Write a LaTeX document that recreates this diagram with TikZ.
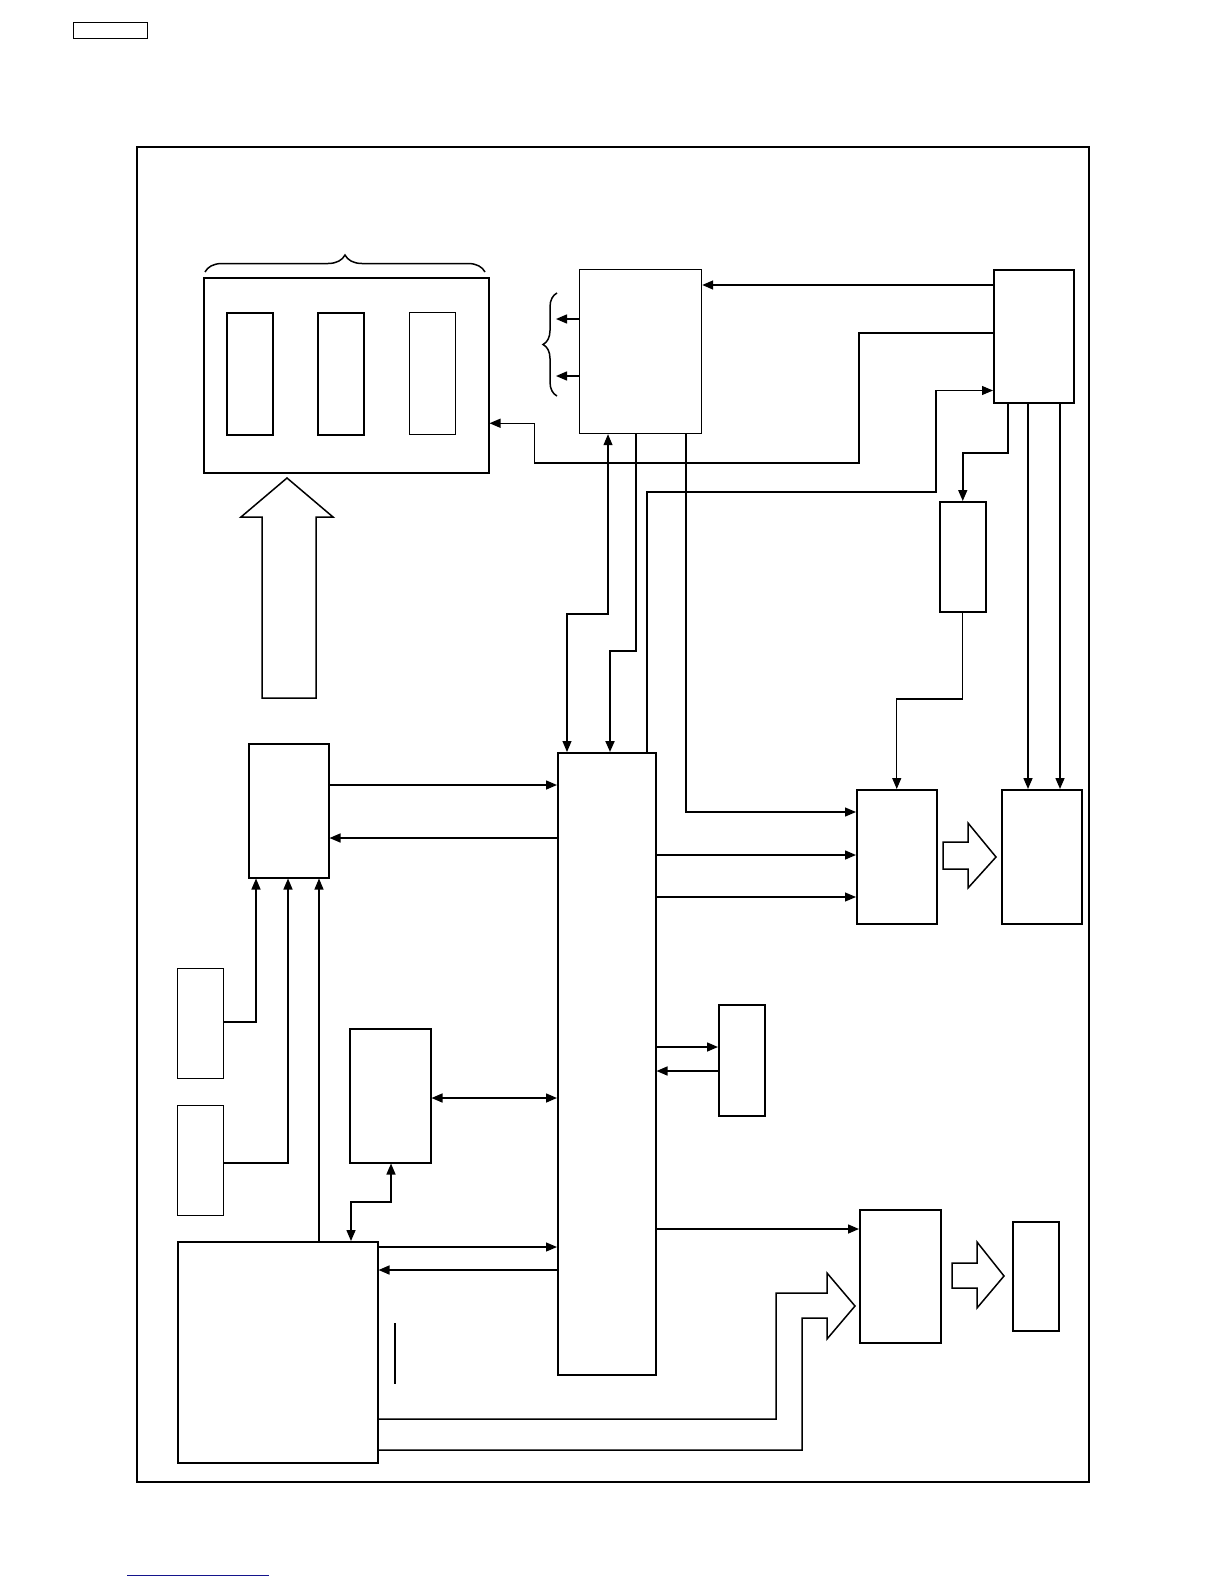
\documentclass[tikz,border=0pt]{standalone}
\usepackage{xcolor}
\usepackage{tikz}
\usetikzlibrary{arrows.meta,calc,decorations.pathreplacing}

\definecolor{linkblue}{RGB}{20,20,140}

\begin{document}
\begin{tikzpicture}[x=1pt, y=-1pt,
  blk/.style={draw, line width=1.5pt, inner sep=0pt, anchor=north west},
  thinblk/.style={blk, line width=1.2pt},
  arr/.style={-{Triangle[length=11pt,width=9pt]}, line width=1.5pt},
  tarr/.style={arr, line width=1.1pt},
  darr/.style={{Triangle[length=11pt,width=9pt]}-{Triangle[length=11pt,width=9pt]},
               line width=1.5pt},
  fat/.style={draw, line width=1.5pt, line join=miter},
  brc/.style={decorate, decoration={brace, amplitude=#1}, line width=1.5pt}
]
\useasboundingbox (0,0) rectangle (1224,1584);

% ── Page marks ───────────────────────────────────────────────────────────────
\node[thinblk, minimum width=74pt, minimum height=16pt] (tag) at (73,22) {};
\draw[linkblue, line width=1pt] (127,1575) -- (269,1575);

% ── Frame ────────────────────────────────────────────────────────────────────
\node[blk, minimum width=952pt, minimum height=1335pt] (frame) at (136,146) {};

% ── Top row ──────────────────────────────────────────────────────────────────
\node[blk, minimum width=285pt, minimum height=195pt] (mem) at (203,277) {};
\node[blk, minimum width=46pt, minimum height=122pt] (slot1) at (226,312) {};
\node[blk, minimum width=46pt, minimum height=122pt] (slot2) at (317,312) {};
\node[thinblk, minimum width=46pt, minimum height=122pt] (slot3) at (409,312) {};
\node[thinblk, minimum width=122pt, minimum height=164pt] (rom) at (579,269) {};
\node[blk, minimum width=80pt, minimum height=133pt] (ctrl) at (993,269) {};
\node[blk, minimum width=46pt, minimum height=110pt] (drv) at (939,501) {};

% ── Middle / bottom ──────────────────────────────────────────────────────────
\node[blk, minimum width=98pt, minimum height=622pt] (cpu) at (557,752) {};
\node[blk, minimum width=80pt, minimum height=134pt] (key) at (248,743) {};
\node[thinblk, minimum width=46pt, minimum height=110pt] (sw1) at (177,968) {};
\node[thinblk, minimum width=46pt, minimum height=110pt] (sw2) at (177,1105) {};
\node[blk, minimum width=81pt, minimum height=134pt] (ram) at (349,1028) {};
\node[blk, minimum width=200pt, minimum height=221pt] (pwr) at (177,1241) {};
\node[blk, minimum width=80pt, minimum height=134pt] (lcdc) at (856,789) {};
\node[blk, minimum width=80pt, minimum height=134pt] (lcd) at (1001,789) {};
\node[blk, minimum width=46pt, minimum height=111pt] (aud) at (718,1004) {};
\node[blk, minimum width=81pt, minimum height=133pt] (amp) at (859,1209) {};
\node[blk, minimum width=46pt, minimum height=109pt] (spk) at (1012,1221) {};

% ── Braces ───────────────────────────────────────────────────────────────────
\draw[brc=17pt] (205,272) -- (485,272);
\draw[brc=14pt] (557,396) -- (557,293);
\draw[arr] ($(rom.north west)+(0,50)$) -- ++(-23,0);
\draw[arr] ($(rom.north west)+(0,107)$) -- ++(-23,0);

% ── Hollow arrows ────────────────────────────────────────────────────────────
\draw[fat] (262,698) -- (262,517) -- (241,517) -- (287,478) -- (333,517)
  -- (316,517) -- (316,698) -- cycle;
\draw[fat] (943,842) -- (968,842) -- (968,823) -- (996,857) -- (968,888)
  -- (968,869) -- (943,869) -- cycle;
\draw[fat] (952,1263) -- (977,1263) -- (977,1242) -- (1004,1276) -- (977,1308)
  -- (977,1288) -- (952,1288) -- cycle;
\draw[fat] ($(pwr.north east)+(0,178)$) -| (776,1293) -- (827,1293) -- (827,1273)
  -- (855,1306) -- (827,1339) -- (827,1318) -- (802,1318)
  |- ($(pwr.north east)+(0,209)$);

% ── Arrows: controller ───────────────────────────────────────────────────────
\draw[arr] ($(ctrl.north west)+(0,16)$) coordinate (c1) -- (c1 -| rom.east);
\draw[arr] ($(ctrl.north west)+(0,64)$) -| (859,463) -| ($(mem.east)+(45,48)$)
  -- ($(mem.east)+(0,48)$);
\draw[tarr] ($(cpu.north west)+(90,0)$) |- (936,492) |- ($(ctrl.south west)+(0,-13)$);
\draw[arr] ($(ctrl.south west)+(15,0)$) |- (drv.north |- 0,453) -- (drv.north);
\draw[tarr] (drv.south) |- (lcdc.north |- 0,699) -- (lcdc.north);
\draw[arr] ($(ctrl.south west)+(35,0)$) -- ($(lcd.north west)+(27,0)$);
\draw[arr] ($(ctrl.south west)+(67,0)$) -- ($(lcd.north west)+(59,0)$);

% ── Arrows: rom / cpu ────────────────────────────────────────────────────────
\draw[darr, line width=1.1pt] ($(rom.south west)+(29,0)$) |- (567,614)
  -- ($(cpu.north west)+(10,0)$);
\draw[arr, line width=2pt] ($(rom.south west)+(57,0)$) |- (610,651)
  -- ($(cpu.north west)+(53,0)$);
\draw[arr, line width=1.2pt] ($(rom.south west)+(107,0)$) |- ($(lcdc.north west)+(0,23)$);

% ── Arrows: cpu right side ───────────────────────────────────────────────────
\path ($(lcdc.north west)+(0,66)$) coordinate (g2)
      ($(lcdc.north west)+(0,108)$) coordinate (g3)
      ($(aud.north west)+(0,43)$) coordinate (a1)
      ($(aud.north west)+(0,67)$) coordinate (a2)
      ($(amp.north west)+(0,20)$) coordinate (e1);
\draw[arr] (cpu.east |- g2) -- (g2);
\draw[tarr] (cpu.east |- g3) -- (g3);
\draw[arr] (cpu.east |- a1) -- (a1);
\draw[arr] (a2) -- (cpu.east |- a2);
\draw[arr] (cpu.east |- e1) -- (e1);

% ── Arrows: left side ────────────────────────────────────────────────────────
\path ($(key.north east)+(0,42)$) coordinate (k1)
      ($(key.north east)+(0,95)$) coordinate (k2)
      ($(ram.north east)+(0,70)$) coordinate (r1)
      ($(pwr.north east)+(0,6)$) coordinate (p1)
      ($(pwr.north east)+(0,29)$) coordinate (p2);
\draw[arr] (k1) -- (cpu.west |- k1);
\draw[arr] (cpu.west |- k2) -- (k2);
\draw[darr] (r1) -- (cpu.west |- r1);
\draw[tarr] (p1) -- (cpu.west |- p1);
\draw[arr] (cpu.west |- p2) -- (p2);

\draw[arr] ($(sw1.north east)+(0,54)$) -| ($(key.south west)+(8,0)$);
\draw[arr] ($(sw2.north east)+(0,58)$) -| ($(key.south west)+(40,0)$);
\draw[tarr] ($(pwr.north west)+(142,0)$) -- ($(key.south west)+(71,0)$);
\draw[darr] ($(ram.south west)+(42,0)$) |- (351,1202) -- ($(pwr.north west)+(174,0)$);

\draw[line width=1.2pt] (395,1323) -- (395,1384);
\end{tikzpicture}
\end{document}
